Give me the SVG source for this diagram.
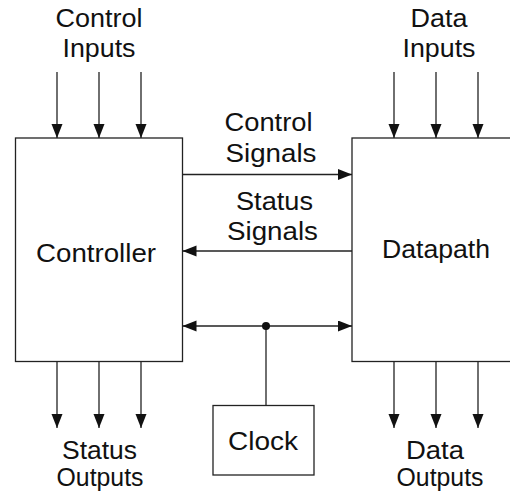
<svg xmlns="http://www.w3.org/2000/svg" width="510" height="492" viewBox="0 0 510 492">
<defs>
<style>
.box{fill:#fff;stroke:#222;stroke-width:1.3}
.ln{fill:none;stroke:#222;stroke-width:1.3}
.arr{marker-end:url(#ah)}
.bi{marker-start:url(#ah);marker-end:url(#ah)}
text{font-family:"Liberation Sans",Arial,sans-serif;font-size:25px;fill:#111;text-anchor:middle}
</style>
<marker id="ah" markerUnits="userSpaceOnUse" markerWidth="15" markerHeight="12" refX="14" refY="5.5" orient="auto-start-reverse">
<path d="M0,0 L14,5.5 L0,11 z" fill="#111"/>
</marker>
</defs>
<rect width="510" height="492" fill="#fff"/>
<g id="controller">
<rect class="box" x="15.5" y="138" width="167" height="223.5"/>
<text x="96" y="262" textLength="120" lengthAdjust="spacingAndGlyphs">Controller</text>
</g>
<g id="datapath">
<rect class="box" x="352" y="138" width="175" height="223.5"/>
<text x="436" y="258" textLength="108" lengthAdjust="spacingAndGlyphs">Datapath</text>
</g>
<g id="clock">
<rect class="box" x="213" y="405.5" width="101" height="69.5"/>
<text x="263" y="450" textLength="70" lengthAdjust="spacingAndGlyphs">Clock</text>
</g>
<g id="labels">
<text x="99" y="27" textLength="87" lengthAdjust="spacingAndGlyphs">Control</text>
<text x="99" y="57" textLength="73" lengthAdjust="spacingAndGlyphs">Inputs</text>
<text x="439" y="27" textLength="57" lengthAdjust="spacingAndGlyphs">Data</text>
<text x="439" y="57" textLength="73" lengthAdjust="spacingAndGlyphs">Inputs</text>
<text x="268.5" y="131" textLength="88" lengthAdjust="spacingAndGlyphs">Control</text>
<text x="271" y="162" textLength="91" lengthAdjust="spacingAndGlyphs">Signals</text>
<text x="274.5" y="210" textLength="77" lengthAdjust="spacingAndGlyphs">Status</text>
<text x="272.5" y="240" textLength="91" lengthAdjust="spacingAndGlyphs">Signals</text>
<text x="99.5" y="459" textLength="75" lengthAdjust="spacingAndGlyphs">Status</text>
<text x="100" y="486" textLength="87" lengthAdjust="spacingAndGlyphs">Outputs</text>
<text x="435" y="459" textLength="58" lengthAdjust="spacingAndGlyphs">Data</text>
<text x="440" y="486" textLength="87" lengthAdjust="spacingAndGlyphs">Outputs</text>
</g>
<g id="connectors">
<line class="ln arr" x1="57" y1="72" x2="57" y2="138"/>
<line class="ln arr" x1="99" y1="72" x2="99" y2="138"/>
<line class="ln arr" x1="141" y1="72" x2="141" y2="138"/>
<line class="ln arr" x1="394" y1="72" x2="394" y2="138"/>
<line class="ln arr" x1="436" y1="72" x2="436" y2="138"/>
<line class="ln arr" x1="478" y1="72" x2="478" y2="138"/>
<line class="ln arr" x1="57" y1="361.5" x2="57" y2="428"/>
<line class="ln arr" x1="99" y1="361.5" x2="99" y2="428"/>
<line class="ln arr" x1="141" y1="361.5" x2="141" y2="428"/>
<line class="ln arr" x1="394" y1="361.5" x2="394" y2="428"/>
<line class="ln arr" x1="436" y1="361.5" x2="436" y2="428"/>
<line class="ln arr" x1="478" y1="361.5" x2="478" y2="428"/>
<line class="ln arr" x1="182.5" y1="174.5" x2="352" y2="174.5"/>
<line class="ln arr" x1="352" y1="251" x2="182.5" y2="251"/>
<line class="ln bi" x1="182.5" y1="326" x2="352" y2="326"/>
<line class="ln" x1="266" y1="326" x2="266" y2="405.5"/>
<circle cx="266" cy="326" r="4" fill="#111"/>
</g>
</svg>
